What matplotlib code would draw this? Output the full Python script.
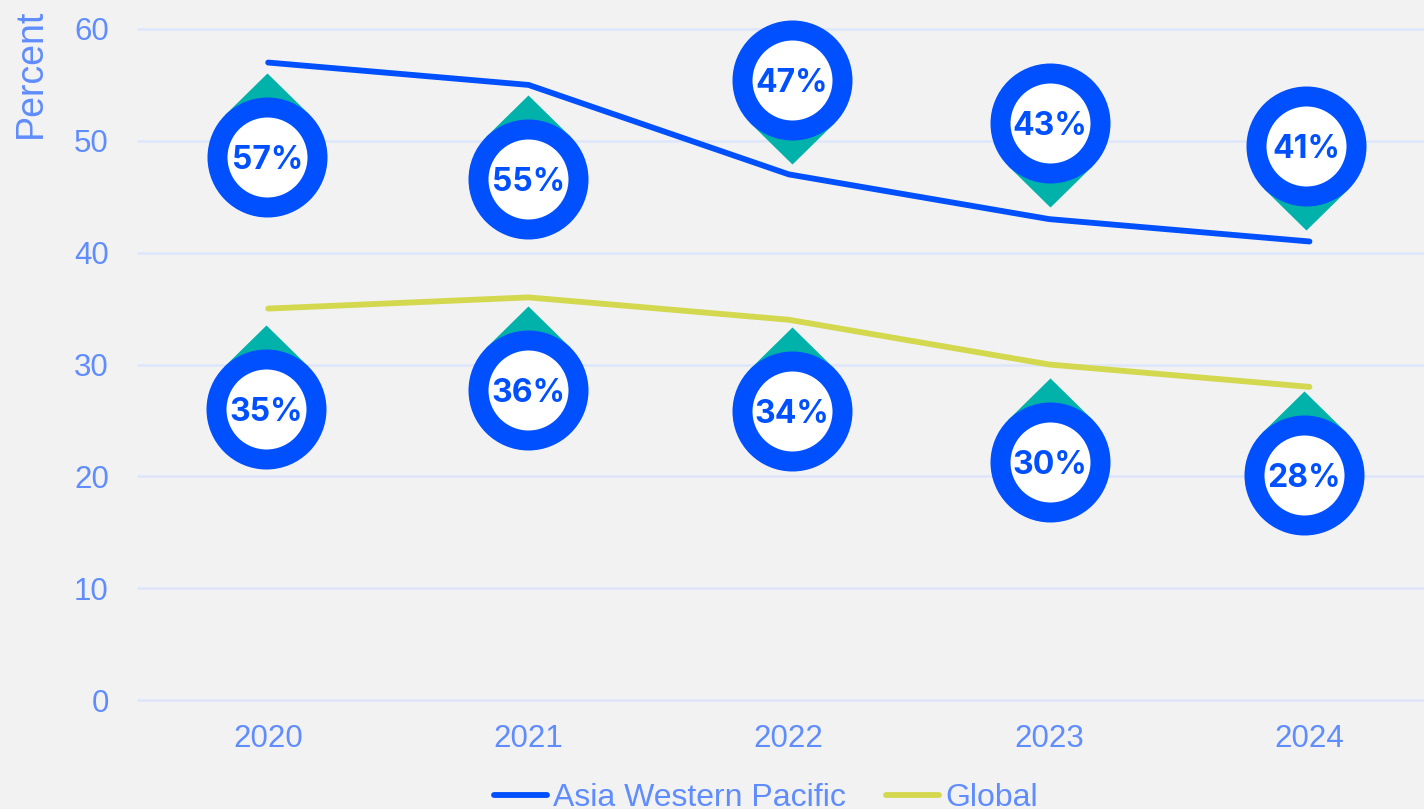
import matplotlib
matplotlib.use("Agg")
import matplotlib.pyplot as plt
from matplotlib.lines import Line2D
from matplotlib.transforms import ScaledTranslation

years = [2020, 2021, 2022, 2023, 2024]
asia = [57, 55, 47, 43, 41]
world = [35, 36, 34, 30, 28]
yticks = [0, 10, 20, 30, 40, 50, 60]

blue = "#0050ff"
olive = "#d3d84f"
teal = "#00b2a9"
tick_c = "#5f8cff"
grid_c = "#dde6fa"
bg = "#f2f2f2"

# pin offsets from the data point, in pixels (dx, dy, positive dy = pin above the point)
asia_pins = [(-1, -94), (0, -94), (3, 94), (1, 96), (-3, 95)]
world_pins = [(-2, -100), (0, -93), (3, -91), (1, -97), (-5, -88)]

plt.rcParams["font.family"] = ["Liberation Sans", "DejaVu Sans"]

fig = plt.figure(figsize=(14.24, 8.09), dpi=100, facecolor=bg)
ax = fig.add_axes([138 / 1424, 1 - 700 / 809, (1424 - 138) / 1424, (700 - 29) / 809], facecolor=bg)
ax.set_xlim(2019.5, 2024.44)
ax.set_ylim(0, 60)

for y in yticks:
    ax.axhline(y, color=grid_c, lw=1.8, zorder=1, clip_on=False)

ax.plot(years, asia, color=blue, lw=4.2, solid_capstyle="round", zorder=2)
ax.plot(years, world, color=olive, lw=4.2, solid_capstyle="round", zorder=2)

# teardrop tip: triangle tangent to the ring, point towards the line or away from it
tip_up = [(0, 84), (-42.4, 42.4), (0, 0), (42.4, 42.4)]
tip_down = [(x, -y) for x, y in tip_up]


def draw_pins(xs, ys, offsets):
    for x, y, (dx, dy) in zip(xs, ys, offsets):
        shift = ax.transData + ScaledTranslation(dx / 100, dy / 100, fig.dpi_scale_trans)
        tip = tip_down if dy > 0 else tip_up
        ax.plot(x, y, marker=tip, ms=121, color=teal, mew=0, zorder=3, clip_on=False, transform=shift)
        ax.plot(x, y, marker="o", ms=72, mfc="white", mec=blue, mew=14.4, zorder=4, clip_on=False, transform=shift)
        ax.text(x, y, f"{y}%", color=blue, fontsize=23, fontweight="bold", ha="center",
                va="center_baseline", family=["Inter", "DejaVu Sans"], zorder=5, transform=shift)


draw_pins(years, asia, asia_pins)
draw_pins(years, world, world_pins)

ax.set_xticks(years)
ax.set_yticks(yticks)
ax.tick_params(length=0, labelsize=22.5, labelcolor=tick_c)
ax.tick_params(axis="y", pad=21)
ax.tick_params(axis="x", pad=17)
for s in ax.spines.values():
    s.set_visible(False)

fig.text(31 / 1424, 1 - 73 / 809, "Percent", rotation=90, color=tick_c, fontsize=27, ha="center", va="center")

handles = [
    Line2D([0], [0], color=blue, lw=4.2, solid_capstyle="round"),
    Line2D([0], [0], color=olive, lw=4.2, solid_capstyle="round"),
]
fig.legend(handles, ["Asia Western Pacific", "Global"], loc="center",
           bbox_to_anchor=(766 / 1424, 1 - 798 / 809), ncol=2, frameon=False, fontsize=23,
           labelcolor=tick_c, handlelength=1.65, handletextpad=0.2, columnspacing=1.25, borderpad=0)

fig.savefig("out.png", dpi=100, facecolor=bg)
